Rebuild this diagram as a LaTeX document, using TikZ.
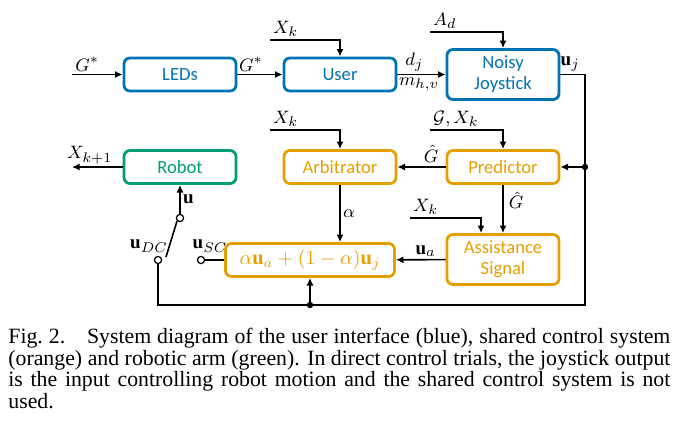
\documentclass[tikz,border=0pt]{standalone}
\usepackage{fontspec}
\setmainfont{Liberation Serif}
\newfontfamily\blockfont{Carlito}
\usetikzlibrary{arrows.meta}
\definecolor{uiblue}{RGB}{0,114,178}
\definecolor{scorange}{RGB}{230,159,0}
\definecolor{armgreen}{RGB}{0,158,115}
\hyphenpenalty=10000
\exhyphenpenalty=10000

\begin{document}
\begin{tikzpicture}[x=0.5pt, y=-0.5pt, node distance=80pt, >={Latex[length=3.8pt,width=3.6pt]},
    main/.style = {draw, rounded corners=3pt, line width=1.4pt, minimum width=56pt, minimum height=16.5pt,
                   align=center, inner sep=1pt, font=\blockfont\fontsize{9.3}{10.5}\selectfont},
    tall/.style = {minimum height=25pt},
    ui/.style = {main, draw=uiblue, text=uiblue},
    sc/.style = {main, draw=scorange, text=scorange},
    arm/.style = {main, draw=armgreen, text=armgreen},
    port/.style = {draw, circle, fill=white, minimum size=3.6pt, inner sep=0pt, line width=0.6pt},
    sig/.style = {line width=0.8pt},
    lbl/.style = {font=\fontsize{9.5}{11}\selectfont, inner sep=1.2pt},
    caption/.style = {text width=331pt, align=justify, inner sep=0pt, font=\fontsize{10.9}{10.8}\selectfont}]
        \useasboundingbox (0,0) rectangle (687,429);

        % user interface
        \node[ui] (LEDs) at (180,74.5) {LEDs};
        \node[ui] (User) [right of=LEDs] {User};
        \node[ui, tall, node distance=81.5pt] (Joy) [right of=User] {Noisy\\Joystick};

        % robot and shared control
        \node[arm, node distance=46.25pt] (Robot) [below of=LEDs] {Robot};
        \node[sc, node distance=46.25pt] (Arb) [below of=User] {Arbitrator};
        \node[sc, node distance=46.25pt] (Pred) [below of=Joy] {Predictor};
        \node[sc, tall, node distance=46.25pt] (Assist) [below of=Pred] {Assistance\\Signal};
        \node[sc, minimum width=84.5pt, font=\fontsize{10.2}{11}\selectfont] (Mix) at (310,260) {$\alpha\mathbf{u}_a+(1-\alpha)\mathbf{u}_j$};

        % switch
        \node[port] (uOut) at (180,218) {};
        \node[port] (uDC) at (158,260) {};
        \node[port] (uSC) at (201,260) {};
        \node[lbl] (uDClbl) at (149,246) {$\mathbf{u}_{DC}$};
        \node[lbl] (uSClbl) at (210,246) {$\mathbf{u}_{SC}$};

        \coordinate (Gin) at (72,74.5);
        \coordinate (XkU) at (270,40);
        \coordinate (Ad) at (430,32);
        \coordinate (XkA) at (270,130);
        \coordinate (GXk) at (430,130);
        \coordinate (XkS) at (410,218);
        \coordinate (Xout) at (72,167);
        \coordinate (fbTop) at (585,74.5);
        \coordinate (fbPred) at (585,167);
        \coordinate (fbBR) at (585,305);
        \coordinate (fbMix) at (310,305);
        \coordinate (fbBL) at (158,305);
        \coordinate (swEnd) at (166,257);

        \draw[sig,->] (Gin) -- node[lbl, above, pos=0.3] {$G^*$} (LEDs);
        \draw[sig,->] (LEDs) -- node[lbl, above, pos=0.3] {$G^*$} (User);
        \draw[sig,->] (XkU) node[lbl, above right] {$X_k$} -| (User);
        \draw[sig,->] (User) -- node[lbl, above, pos=0.35] {$d_j$} node[lbl, below, pos=0.45] {$m_{h,v}$} (Joy);
        \draw[sig,->] (Ad) node[lbl, above right] {$A_d$} -| (Joy);

        % feedback of the joystick output
        \draw[sig] (Joy) -- node[lbl, above, pos=0.4] {$\mathbf{u}_j$} (fbTop) -- (fbBR) -- (fbMix) -- (fbBL) -- (uDC);
        \draw[sig,->] (fbPred) -- (Pred);
        \draw[sig,->] (fbMix) -- (Mix);
        \fill (fbPred) circle (1.6pt);
        \fill (fbMix) circle (1.6pt);

        \draw[sig,->] (GXk) node[lbl, above right] {$\mathcal{G},X_k$} -| (Pred);
        \draw[sig,->] (XkA) node[lbl, above right] {$X_k$} -| (Arb);
        \draw[sig,->] (Pred) -- node[lbl, above, pos=0.3, inner sep=2pt] {$\hat{G}$} (Arb);
        \draw[sig,->] (Pred) -- node[lbl, right, pos=0.32, inner sep=2.5pt] {$\hat{G}$} (Assist);
        \draw[sig,->] (XkS) node[lbl, above right] {$X_k$} -| ([xshift=-11pt]Assist.north);
        \draw[sig,->] (Arb) -- node[lbl, right] {$\alpha$} (Arb |- Mix.north);
        \draw[sig,->] (Assist) -- node[lbl, above, pos=0.4] {$\mathbf{u}_a$} (Mix);

        \draw[sig] (uSC) -- (Mix);
        \draw[sig] (swEnd) -- (uOut.south west);
        \draw[sig,->] (uOut) -- node[lbl, right] {$\mathbf{u}$} (Robot);
        \draw[sig,->] (Robot) -- node[lbl, above, pos=0.65] {$X_{k+1}$} (Xout);

        \node[caption, anchor=north west] (cap) at (8,328) {Fig.~2.\hspace{1em}System diagram of the user interface (blue), shared control system (orange) and robotic arm (green). In direct control trials, the joystick output is the input controlling robot motion and the shared control system is not used.};
    \end{tikzpicture}
\end{document}
